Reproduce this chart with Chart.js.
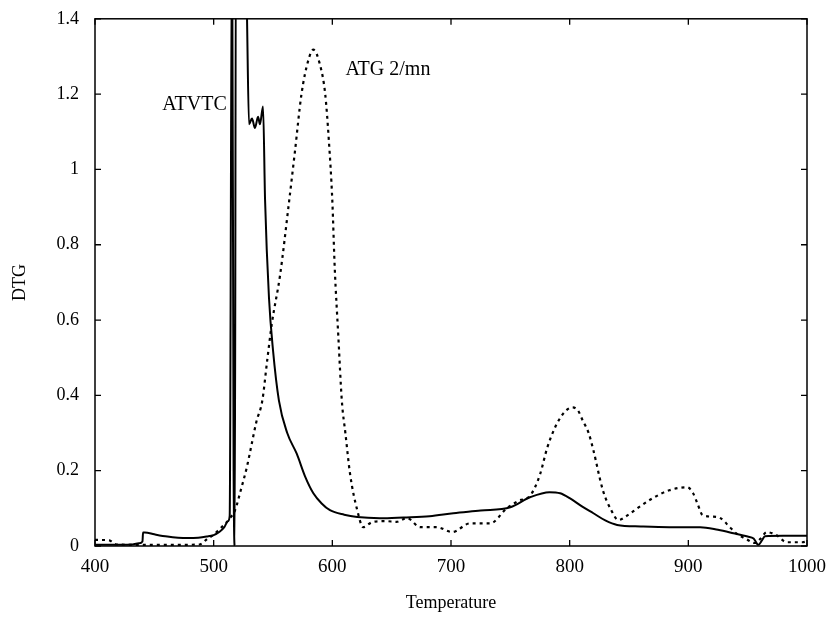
<!DOCTYPE html>
<html>
<head>
<meta charset="utf-8">
<script src="https://cdn.jsdelivr.net/npm/chart.js"></script>
<style>
  html, body { margin: 0; padding: 0; background: #fff; }
  #wrap { width: 833px; height: 620px; }
</style>
</head>
<body>
<div id="wrap"><canvas id="grafico" width="833" height="620"></canvas></div>
<script>
// Courbe ATVTC (trait plein)
const atvtcT = [400, 415, 430, 437, 440, 440.5, 442, 450, 461, 470, 478, 487, 494, 500, 505, 509, 512, 513.5, 515.5, 516.8, 517.8, 518.8, 522, 526, 528, 529.8, 532.3, 534.8, 537.4, 539, 541.6, 543.3, 546.6, 550, 555, 562, 570, 577, 584, 591, 598, 610, 621, 640, 660, 682, 702, 725, 750, 767, 783, 792, 800, 810, 820, 830, 840, 860, 884, 910, 925, 938, 950, 955, 959, 962, 964.6, 980, 1000];
const atvtcDTG = [0.003, 0.003, 0.004, 0.007, 0.012, 0.036, 0.036, 0.031, 0.025, 0.022, 0.021, 0.022, 0.025, 0.029, 0.038, 0.05, 0.066, 0.08, 1.7, 0.2, 0.0, 1.7, 1.7, 1.7, 1.42, 1.12, 1.135, 1.11, 1.14, 1.12, 1.167, 0.92, 0.66, 0.52, 0.386, 0.3, 0.245, 0.185, 0.14, 0.113, 0.095, 0.083, 0.077, 0.074, 0.076, 0.079, 0.087, 0.094, 0.103, 0.13, 0.143, 0.14, 0.127, 0.106, 0.087, 0.068, 0.056, 0.052, 0.05, 0.05, 0.043, 0.034, 0.025, 0.02, 0.003, 0.015, 0.026, 0.027, 0.027];

// Courbe ATG 2/mn (pointillés)
const atgT = [400, 405, 412, 418, 440, 470, 488, 495, 500, 505, 510, 514, 518, 523, 528, 532, 536, 541, 545, 549, 556, 563, 568.5, 574, 579.5, 584, 589.6, 594, 597, 600, 602, 605, 608, 611, 615, 621, 626, 634, 645, 654, 663, 674, 688, 701, 716, 733, 747, 757, 767, 775, 781, 787, 792, 797, 802, 807, 811, 816, 820, 828, 835, 841, 849, 857, 870, 884, 899, 904, 908, 912, 920, 927, 935, 941, 948, 956, 961, 966, 974, 983, 996, 1000];
const atgDTG = [0.016, 0.016, 0.015, 0.004, 0.003, 0.003, 0.004, 0.02, 0.03, 0.045, 0.06, 0.075, 0.095, 0.15, 0.21, 0.27, 0.33, 0.386, 0.49, 0.59, 0.72, 0.9, 1.048, 1.2, 1.287, 1.318, 1.278, 1.2, 1.08, 0.916, 0.74, 0.56, 0.386, 0.3, 0.19, 0.095, 0.05, 0.064, 0.066, 0.064, 0.074, 0.05, 0.05, 0.037, 0.06, 0.06, 0.1, 0.12, 0.135, 0.19, 0.26, 0.31, 0.34, 0.36, 0.368, 0.36, 0.333, 0.3, 0.254, 0.148, 0.095, 0.069, 0.082, 0.1, 0.127, 0.148, 0.156, 0.14, 0.11, 0.082, 0.078, 0.074, 0.05, 0.032, 0.02, 0.008, 0.02, 0.037, 0.029, 0.01, 0.01, 0.012];

// Graduations des axes
const xTicks = [400, 500, 600, 700, 800, 900, 1000];
const xTickLabels = ["400", "500", "600", "700", "800", "900", "1000"];
const yTicks = [0, 0.2, 0.4, 0.6, 0.8, 1, 1.2, 1.4];
const yTickLabels = ["0", "0.2", "0.4", "0.6", "0.8", "1", "1.2", "1.4"];

// Étiquettes des courbes
const etiquettes = [
  { texte: "ATVTC", x: 511, y: 1.173, align: "right" },
  { texte: "ATG 2/mn", x: 611, y: 1.265, align: "left" }
];

function paires(xs, ys) {
  return xs.map((x, i) => ({ x: x, y: ys[i] }));
}

const police = "'Liberation Serif', 'DejaVu Serif', serif";

// Cadre, graduations intérieures et étiquettes
const cadrePlugin = {
  id: "cadre",
  afterDatasetsDraw(chart) {
    const { ctx, chartArea: a, scales } = chart;
    ctx.save();
    ctx.strokeStyle = "#000";
    ctx.lineWidth = 1.5;
    ctx.strokeRect(a.left, a.top, a.right - a.left, a.bottom - a.top);
    ctx.lineWidth = 1.3;
    ctx.beginPath();
    xTicks.forEach(v => {
      const px = scales.x.getPixelForValue(v);
      ctx.moveTo(px, a.bottom); ctx.lineTo(px, a.bottom - 6);
      ctx.moveTo(px, a.top); ctx.lineTo(px, a.top + 6);
    });
    yTicks.forEach(v => {
      const py = scales.y.getPixelForValue(v);
      ctx.moveTo(a.left, py); ctx.lineTo(a.left + 6, py);
      ctx.moveTo(a.right, py); ctx.lineTo(a.right - 6, py);
    });
    ctx.stroke();
    ctx.fillStyle = "#000";
    ctx.font = "20px " + police;
    ctx.textBaseline = "middle";
    etiquettes.forEach(e => {
      ctx.textAlign = e.align;
      ctx.fillText(e.texte, scales.x.getPixelForValue(e.x), scales.y.getPixelForValue(e.y));
    });
    ctx.restore();
  }
};

new Chart(document.getElementById("grafico"), {
  type: "line",
  data: {
    datasets: [
      {
        label: "ATVTC",
        data: paires(atvtcT, atvtcDTG),
        borderColor: "#000",
        borderWidth: 2,
        pointRadius: 0,
        cubicInterpolationMode: "monotone"
      },
      {
        label: "ATG 2/mn",
        data: paires(atgT, atgDTG),
        borderColor: "#000",
        borderWidth: 2.2,
        borderDash: [3, 4],
        pointRadius: 0,
        cubicInterpolationMode: "monotone"
      }
    ]
  },
  options: {
    responsive: false,
    animation: false,
    layout: { padding: { top: 17, right: 26, left: 0, bottom: 0 } },
    plugins: { legend: { display: false }, tooltip: { enabled: false } },
    scales: {
      x: {
        type: "linear",
        min: 400,
        max: 1000,
        afterBuildTicks: s => { s.ticks = xTicks.map(v => ({ value: v })); },
        afterFit: s => { s.height = 74; },
        grid: { display: false },
        border: { display: false },
        ticks: {
          color: "#000",
          font: { family: police, size: 19 },
          padding: 2,
          maxRotation: 0,
          callback: (v, i) => xTickLabels[i]
        },
        title: { display: true, text: "Temperature", color: "#000", font: { family: police, size: 18 }, padding: { top: 0, bottom: 6 } }
      },
      y: {
        min: 0,
        max: 1.4,
        afterBuildTicks: s => { s.ticks = yTicks.map(v => ({ value: v })); },
        afterFit: s => { s.width = 95; },
        grid: { display: false },
        border: { display: false },
        ticks: {
          color: "#000",
          font: { family: police, size: 18 },
          padding: 8,
          callback: (v, i) => yTickLabels[i]
        },
        title: { display: true, text: "DTG", color: "#000", font: { family: police, size: 18 }, padding: { top: 9, bottom: 0 } }
      }
    }
  },
  plugins: [cadrePlugin]
});
</script>
</body>
</html>
